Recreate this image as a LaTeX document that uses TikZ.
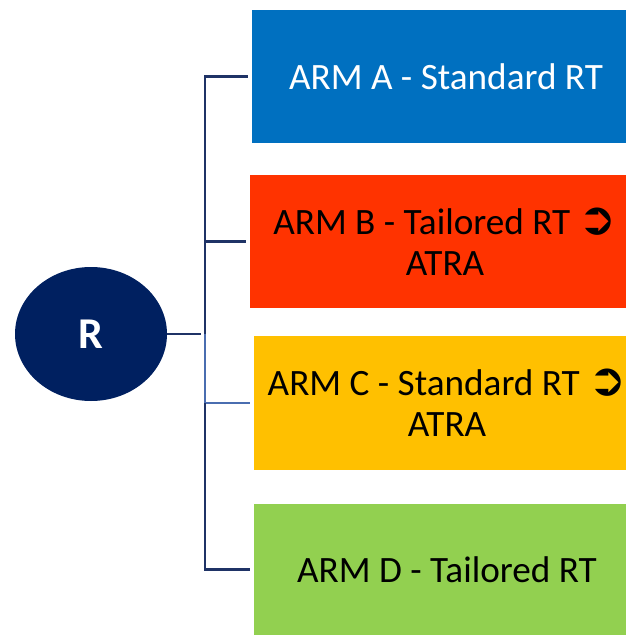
\documentclass[tikz,border=0pt]{standalone}
\usepackage{fontspec}
\setmainfont{Carlito}
\newfontfamily\symfont{DejaVu Sans}
\usetikzlibrary{positioning,calc,shapes.geometric}

\definecolor{navy}{HTML}{002060}
\definecolor{linedark}{HTML}{1F3366}
\definecolor{linelight}{HTML}{4A6DB0}
\definecolor{armblue}{HTML}{0070C0}
\definecolor{armred}{HTML}{FF3300}
\definecolor{armyellow}{HTML}{FFC000}
\definecolor{armgreen}{HTML}{92D050}

\tikzset{
  armbox/.style={rectangle, minimum height=99.75pt, align=center,
    inner sep=0pt, font=\fontsize{27.9}{30.75}\selectfont},
  branch/.style={line width=2pt, color=linedark},
}
\newcommand{\arrsym}{{\symfont\fontsize{34}{30}\selectfont\char"27B2}}

\begin{document}
\begin{tikzpicture}[x=0.75pt,y=-0.75pt]
  \useasboundingbox (0,0) rectangle (625,635);
  % randomisation node
  \node[ellipse, fill=navy, minimum width=114pt, minimum height=100.5pt,
        text=white, font=\fontsize{33}{36}\bfseries\selectfont] (R) at (91,334) {R};
  % the four arms
  \node[armbox, fill=armblue, text=white, minimum width=291pt] (armA) at (446,76.5) {ARM A - Standard RT};
  \node[armbox, fill=armred, minimum width=292.5pt] (armB) at (445,241.5) {ARM B - Tailored RT \arrsym\\ATRA};
  \node[armbox, fill=armyellow, minimum width=289.5pt, minimum height=100.5pt] (armC) at (447,403) {ARM C - Standard RT \arrsym\\ATRA};
  \node[armbox, fill=armgreen, minimum width=289.5pt, minimum height=98.25pt] (armD) at (447,569.5) {ARM D - Tailored RT};
  % tree
  \coordinate (hub) at (205,334);
  \coordinate (hubC) at (205,403);
  \draw[branch, shorten >=3] (R.east) -- (hub);
  \draw[branch, shorten >=3] (hub) |- (armA.west);
  \draw[branch, shorten >=3] (hub) |- (armB.west);
  \draw[branch, color=linelight, line width=1.5pt] (hub) -- (hubC);
  \draw[branch, color=linelight, line width=1.5pt, shorten >=3] (hubC) -- (armC.west);
  \draw[branch, shorten >=3] (hubC) |- (armD.west);
\end{tikzpicture}
\end{document}
